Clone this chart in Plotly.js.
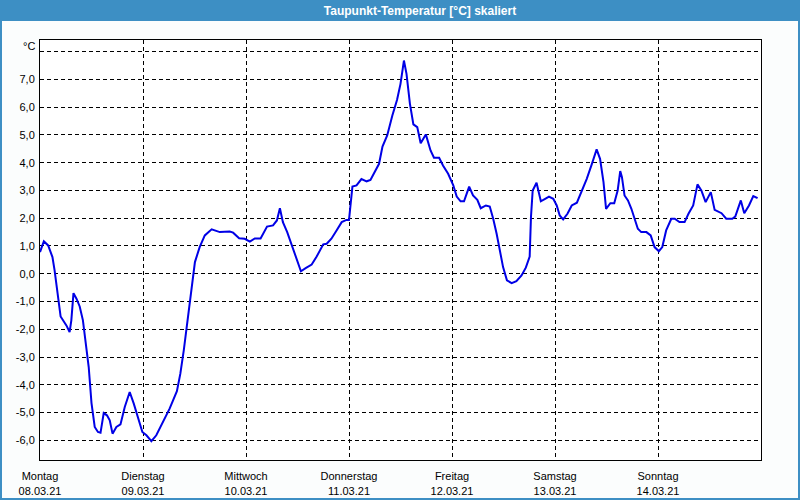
<!DOCTYPE html>
<html>
<head>
<meta charset="utf-8">
<script src="https://cdn.plot.ly/plotly-3.0.1.min.js"></script>
<style>html,body{margin:0;padding:0;background:#fbfdfd;}#chart{width:800px;height:500px;}</style>
</head>
<body>
<div id="chart"></div>
<script>
// Hours since Monday 08.03.21 00:00
var hours = [0,0.9,1.9,2.9,3.4,4.05,4.8,6.15,6.9,7.3,7.8,8.5,9.25,10.0,10.8,11.35,12.0,12.75,13.5,14.1,14.85,15.6,16.25,16.9,17.8,18.75,19.75,20.9,21.85,22.85,23.85,24.8,25.95,27.1,28.7,30.2,31.9,32.7,33.5,34.3,35.05,35.7,36.1,37.2,38.4,40.0,41.9,44.2,45,46.4,47.7,48.9,50.05,51.4,52.9,54.3,55.2,55.9,56.6,57.6,59,59.9,60.8,61.9,63.3,64.4,66,66.8,67.9,69.1,70.3,71.4,72,72.8,73.75,74.9,76.1,77,78,79,79.8,80.9,82.1,83.2,84,84.8,85.4,86.2,87,87.9,88.7,89.9,91,91.8,93,93.9,95.1,96.3,97.1,98,98.8,100,100.9,101.9,102.7,103.9,104.8,105.6,106.4,107.2,107.9,108.8,109.9,111,112.2,113.2,114.1,114.4,114.8,115.7,116.7,117.7,118.6,119.6,120.4,121.1,121.9,122.9,123.9,125.1,126.2,127.4,128.6,129.7,130.5,131.3,131.9,132.9,133.8,134.6,135.2,135.6,136.2,137,137.8,138.6,139.3,140.1,141.3,142.3,143.2,144.2,145.0,145.9,147.1,147.9,149,150.2,151.1,152.2,153.2,154.1,155.1,156.3,157.2,158.8,159.9,161.3,162,163.3,164.1,165.2,166.2,167.2];
var dewpoint = [0.78,1.17,1.02,0.6,0.12,-0.6,-1.54,-1.86,-2.1,-1.68,-0.7,-0.9,-1.18,-1.68,-2.64,-3.36,-4.66,-5.52,-5.7,-5.73,-5.02,-5.1,-5.28,-5.76,-5.52,-5.43,-4.8,-4.26,-4.68,-5.16,-5.7,-5.82,-6.03,-5.82,-5.34,-4.86,-4.23,-3.6,-2.76,-1.8,-0.9,-0.12,0.42,0.96,1.38,1.6,1.5,1.52,1.48,1.28,1.26,1.16,1.27,1.27,1.7,1.74,1.92,2.36,1.86,1.5,0.86,0.42,0.09,0.2,0.33,0.6,1.06,1.08,1.26,1.56,1.86,1.94,1.94,3.14,3.18,3.41,3.33,3.38,3.66,3.96,4.58,4.98,5.7,6.27,6.84,7.68,7.2,6.12,5.38,5.28,4.7,5.02,4.44,4.18,4.18,3.9,3.6,3.18,2.78,2.61,2.61,3.14,2.82,2.66,2.36,2.46,2.42,1.98,1.44,0.84,0.24,-0.24,-0.34,-0.27,-0.06,0.22,0.62,2.04,3.0,3.28,2.61,2.7,2.78,2.7,2.46,2.1,1.96,2.16,2.46,2.56,2.94,3.42,3.96,4.48,4.14,3.3,2.34,2.54,2.54,3.0,3.7,3.48,2.82,2.64,2.34,1.98,1.62,1.5,1.5,1.38,0.96,0.81,0.96,1.56,1.98,1.98,1.86,1.86,2.16,2.46,3.22,3.0,2.58,2.94,2.3,2.18,1.98,1.98,2.06,2.64,2.18,2.46,2.8,2.72];
var xTickVals = [0,24,48,72,96,120,144];
var xTickText = ['Montag<br>08.03.21','Dienstag<br>09.03.21','Mittwoch<br>10.03.21','Donnerstag<br>11.03.21','Freitag<br>12.03.21','Samstag<br>13.03.21','Sonntag<br>14.03.21'];
var yTickVals = [-6,-5,-4,-3,-2,-1,0,1,2,3,4,5,6,7,8];
var yTickText = ['-6,0','-5,0','-4,0','-3,0','-2,0','-1,0','0,0','1,0','2,0','3,0','4,0','5,0','6,0','7,0',''];

var BLUE = '#3d8fc4';
// plot area: x 40..761, y 40..460 (px)
function px(x){return (x-40)/721;}
function py(y){return (460-y)/420;}

var trace = {x:hours, y:dewpoint, type:'scatter', mode:'lines',
  line:{color:'#0000e6', width:2}, hoverinfo:'skip'};

var layout = {
  width:800, height:500,
  margin:{l:40, r:39, t:40, b:40},
  paper_bgcolor:'#fbfdfd', plot_bgcolor:'#ffffff',
  font:{family:'Liberation Sans, Arial, sans-serif', size:11, color:'#000'},
  showlegend:false,
  title:{text:'Taupunkt-Temperatur [°C] skaliert', x:420/800, xanchor:'center', xref:'container',
    y:1-10.5/500, yanchor:'middle', yref:'container',
    font:{family:'Liberation Sans, Arial, sans-serif', size:12, color:'#ffffff', weight:'bold'}},
  xaxis:{range:[0,168], tickvals:xTickVals, ticktext:xTickText, showgrid:true,
    gridcolor:'#000', griddash:'4px,3px', gridwidth:1, zeroline:false,
    showline:true, linecolor:'#000', linewidth:1, mirror:true, ticks:'', ticklabelstandoff:6, fixedrange:true},
  yaxis:{range:[-6.71,8.42], tickvals:yTickVals, ticktext:yTickText, showgrid:true,
    gridcolor:'#000', griddash:'4px,3px', gridwidth:1, zeroline:false,
    showline:true, linecolor:'#000', linewidth:1, mirror:true, ticks:'', ticklabelstandoff:2, fixedrange:true},
  shapes:[
    {type:'rect', xref:'paper', yref:'paper', x0:px(0), x1:px(800), y0:py(21), y1:py(0),
     fillcolor:BLUE, line:{width:0}, layer:'below'},
    {type:'rect', xref:'paper', yref:'paper', x0:px(1), x1:px(799), y0:py(499), y1:py(1),
     fillcolor:'rgba(0,0,0,0)', line:{color:BLUE, width:2}, layer:'above'}
  ],
  annotations:[
    {text:'°C', xref:'paper', yref:'paper', x:px(37), y:py(46), xanchor:'right', yanchor:'middle',
     showarrow:false, font:{size:11, color:'#000'}}
  ]
};
Plotly.newPlot('chart',[trace],layout,{staticPlot:true, displayModeBar:false});
</script>
</body>
</html>
